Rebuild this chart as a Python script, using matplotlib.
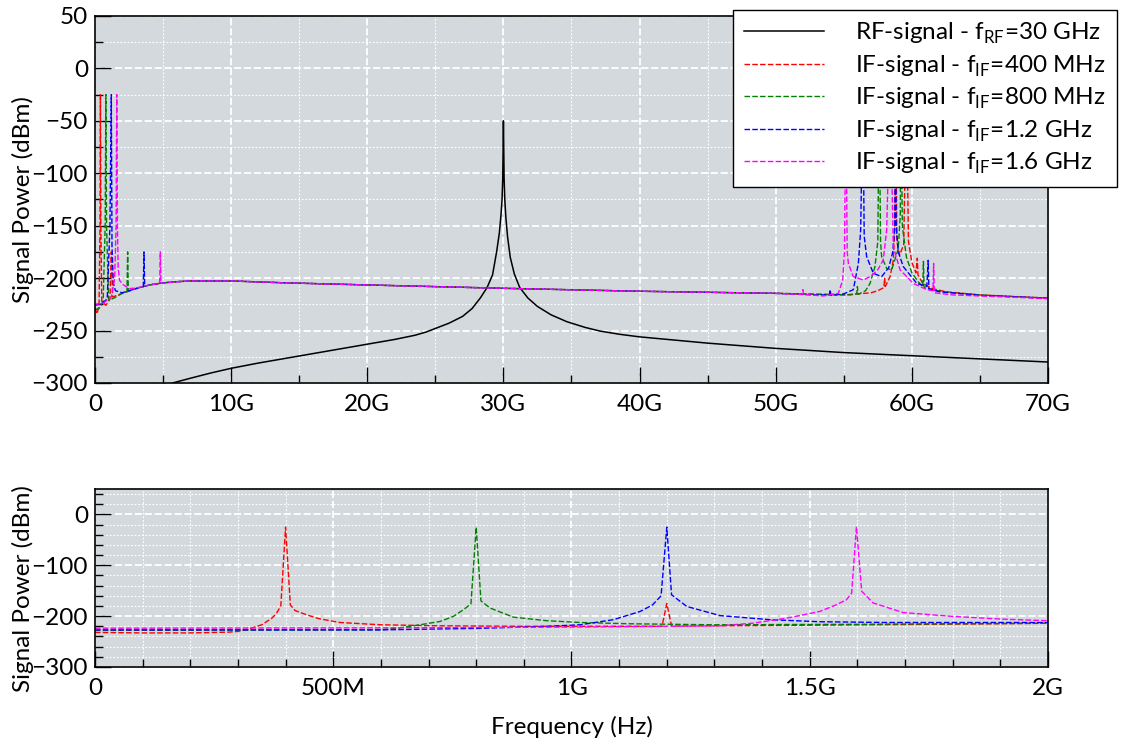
import numpy as np
import matplotlib
matplotlib.use('Agg')
import matplotlib.pyplot as plt
from matplotlib.ticker import MultipleLocator, EngFormatter

plt.rcParams['font.family'] = ['Lato', 'DejaVu Sans']
plt.rcParams['mathtext.fontset'] = 'custom'
plt.rcParams['mathtext.rm'] = 'Lato'
plt.rcParams['font.size'] = 17.5

# ---------------- data (frequency in GHz, power in dBm) ----------------
# top panel: full span 0..70 GHz
rf_f = [5.7, 7, 8.5, 10, 12, 14, 16, 18, 20, 22, 23.5, 24.3, 25, 26, 27, 27.7, 28.3, 28.8, 29.2,
        29.5, 29.7, 29.82, 29.9, 29.95, 30.0, 30.05, 30.1, 30.18, 30.3, 30.5, 30.8, 31.2, 31.8,
        32.5, 33.5, 34.65, 36, 37.1, 38.5, 40, 45, 50, 55, 60, 65, 70]
rf_p = [-300, -295.5, -290.5, -286, -281, -276.5, -272, -267.5, -263, -258.5, -254.5, -251.5,
        -248, -243, -236.5, -229, -219, -209, -197, -175, -157, -140, -125, -105, -50, -105,
        -125, -142, -160, -180, -196, -209, -219, -227, -235, -241.5, -247, -250.5, -253.5,
        -256, -262, -267, -271, -274, -277, -280]

if400_f = [0, 0.15, 0.3, 0.37, 0.4, 0.43, 0.5, 0.8, 1.1, 1.2, 1.3, 1.6, 2, 3, 4, 5, 6, 7, 10, 14,
           20, 30, 40, 50, 55, 57, 57.5, 57.95, 58.0, 58.05, 58.4, 58.64, 58.75, 58.8, 58.9,
           59.1, 59.4, 59.6, 59.75, 60.0, 60.3, 60.4, 60.45, 60.8, 61.5, 62.5, 65, 70]
if400_p = [-228, -234, -226, -150, -25, -150, -222, -226, -220, -175, -218, -216.5, -214.5, -210,
           -206.5, -204.5, -203.4, -202.7, -202.7, -204.5, -206.5, -209.7, -212.5, -214.5, -216,
           -214, -212, -209, -200, -208, -198.6, -182.7, -150, -25, -165, -178, -168, -25, -165,
           -185, -195, -181, -197, -205, -210, -213, -216, -219]

if800_f = [0, 0.3, 0.6, 0.75, 0.8, 0.85, 1.0, 1.4, 2.0, 2.35, 2.4, 2.45, 3, 4, 5, 6, 7, 10, 14, 20,
           30, 40, 50, 55.5, 55.95, 56.0, 56.05, 56.6, 56.93, 57.29, 57.5, 57.6, 57.7, 57.78, 58.15,
           58.52, 59.0, 59.15, 59.2, 59.3, 59.6, 60.0, 60.5, 60.8, 60.85, 60.9, 61.5, 62.5, 65, 70]
if800_p = [-230, -229, -222, -150, -25, -150, -221, -219, -214.5, -213, -175, -212.5, -210, -206.5,
           -204.5, -203.4, -202.7, -202.7, -204.5, -206.5, -209.7, -212.5, -214.5, -216, -215, -208,
           -215.5, -212, -205, -189, -165, -25, -165, -179.5, -190.8, -192, -172, -140, -25, -150,
           -180, -195, -204, -208, -184, -209, -211, -213.5, -216, -219.5]

if1200_f = [0, 0.5, 0.9, 1.1, 1.2, 1.25, 1.35, 1.5, 2, 3, 3.55, 3.6, 3.65, 4, 5, 6, 7, 10, 14, 20,
            30, 40, 50, 53, 53.95, 54.0, 54.05, 55, 55.7, 56.07, 56.24, 56.4, 56.5, 56.68, 57.17,
            57.78, 58.3, 58.6, 58.75, 58.8, 58.85, 59.0, 59.37, 60.36, 61.1, 61.2, 61.25, 62, 63,
            65, 70]
if1200_p = [-226, -224, -220, -150, -25, -170, -205, -212, -214, -210, -208, -175, -208, -206.5,
            -204.5, -203.4, -202.7, -202.7, -204.5, -206.5, -209.7, -212.5, -214.5, -216, -216,
            -211, -216.5, -215, -211, -186, -154, -25, -160, -179.5, -195.4, -198.6, -190, -175,
            -150, -25, -150, -175, -189, -205, -208, -183, -210, -213, -214, -216.5, -219]

if1600_f = [0, 0.6, 1.2, 1.45, 1.55, 1.6, 1.65, 1.7, 1.8, 2.05, 2.5, 3, 4, 4.75, 4.8, 4.85, 6, 7,
            10, 14, 20, 30, 40, 50, 51.95, 52.0, 52.05, 53.5, 54.6, 54.92, 55.05, 55.15, 55.25,
            55.34, 55.7, 56.44, 57.0, 57.5, 57.9, 58.15, 58.4, 58.64, 59.13, 60.1, 61.1, 61.55,
            61.6, 61.65, 63, 65, 70]
if1600_p = [-225, -224, -218, -200, -150, -25, -150, -189, -202, -206, -210, -209.5, -206.5, -205,
            -175, -205, -203.4, -202.7, -202.7, -204.5, -206.5, -209.7, -212.5, -214.5, -215.5,
            -211, -215.5, -217, -214.5, -202, -175, -25, -175, -186, -198.6, -201.8, -198, -192,
            -182.7, -154, -25, -170, -192, -205, -211, -212, -186, -214, -216, -217, -219.5]

# bottom panel: zoom 0..2 GHz
b400_f = [0, 0.1, 0.2, 0.28, 0.30, 0.32, 0.35, 0.37, 0.38, 0.39, 0.40, 0.41, 0.42, 0.444, 0.47,
          0.514, 0.6, 0.72, 0.9, 1.19, 1.20, 1.21, 1.4, 1.7, 2.0]
b400_p = [-232, -233, -233, -231.5, -230, -226, -217, -205, -196, -180, -25, -178, -189, -197.4,
          -205, -212.5, -217, -219, -220, -220, -175, -219.5, -218.5, -216.5, -214]

b800_f = [0, 0.3, 0.6, 0.64, 0.682, 0.724, 0.752, 0.773, 0.789, 0.80, 0.81, 0.829, 0.878, 0.948,
          1.018, 1.123, 1.297, 1.6, 2.0]
b800_p = [-228, -227.5, -227, -223, -217, -210.5, -200.6, -187.5, -176, -25, -170, -184, -202,
          -209, -212.5, -215, -217, -216, -214]

b1200_f = [0, 0.6, 0.808, 0.948, 1.018, 1.088, 1.144, 1.17, 1.188, 1.20, 1.21, 1.242, 1.312,
           1.417, 1.521, 1.661, 2.0]
b1200_p = [-227, -227, -224, -220, -217, -207, -190.8, -178, -160, -25, -158, -181, -199, -207,
           -211, -212.5, -212.5]

b1600_f = [0, 0.6, 1.0, 1.2, 1.312, 1.381, 1.452, 1.521, 1.555, 1.577, 1.588, 1.598, 1.609, 1.633,
           1.696, 1.801, 1.906, 2.0]
b1600_p = [-223.7, -223, -221.5, -220, -219, -213.8, -204, -190.8, -178, -167.8, -154.6, -24, -151,
           -174, -193, -200.6, -206, -209]

labels = ['RF-signal - f$_\\mathrm{RF}$=30 GHz',
          'IF-signal - f$_\\mathrm{IF}$=400 MHz',
          'IF-signal - f$_\\mathrm{IF}$=800 MHz',
          'IF-signal - f$_\\mathrm{IF}$=1.2 GHz',
          'IF-signal - f$_\\mathrm{IF}$=1.6 GHz']
colors = ['black', '#ff0000', '#008000', '#0000ff', '#ff00ff']

top_series = [(if400_f, if400_p), (if800_f, if800_p), (if1200_f, if1200_p), (if1600_f, if1600_p)]
bot_series = [(b400_f, b400_p), (b800_f, b800_p), (b1200_f, b1200_p), (b1600_f, b1600_p)]

dash = (0, (4, 1.6))
bg = '#d4d9de'

fig = plt.figure(figsize=(11.32, 7.47), dpi=100)
ax1 = fig.add_axes([0.0839, 0.4873, 0.8419, 0.4913])
ax2 = fig.add_axes([0.0839, 0.1071, 0.8419, 0.2383])


def style_axes(ax):
    ax.set_facecolor(bg)
    ax.set_axisbelow(True)
    ax.grid(which='major', color='white', linestyle=(0, (4, 1.5)), linewidth=1.3)
    ax.grid(which='minor', color='white', linestyle=(0, (1.6, 1.6)), linewidth=0.8)
    ax.tick_params(which='both', direction='in', top=False, right=False, width=1.0)
    ax.tick_params(which='major', length=11.5)
    ax.tick_params(which='minor', length=5.8)
    ax.tick_params(axis='x', pad=8)
    ax.tick_params(axis='y', pad=5)
    for s in ax.spines.values():
        s.set_linewidth(1.2)
    ax.xaxis.set_major_formatter(EngFormatter(sep=''))


# top panel
ax1.plot(np.array(rf_f) * 1e9, rf_p, color=colors[0], lw=1.1, label=labels[0])
for (f, p), c, lab in zip(top_series, colors[1:], labels[1:]):
    ax1.plot(np.array(f) * 1e9, p, color=c, lw=1.0, linestyle=dash, label=lab)
ax1.set_xlim(0, 70e9)
ax1.set_ylim(-300, 50)
ax1.xaxis.set_major_locator(MultipleLocator(10e9))
ax1.xaxis.set_minor_locator(MultipleLocator(5e9))
ax1.yaxis.set_major_locator(MultipleLocator(50))
ax1.yaxis.set_minor_locator(MultipleLocator(25))
style_axes(ax1)
ax1.set_ylabel('Signal Power (dBm)')
ax1.yaxis.set_label_coords(-0.064, 0.5)

leg = ax1.legend(loc='upper right', bbox_to_anchor=(1.0724, 1.0163), borderaxespad=0,
                 frameon=True, fancybox=False, framealpha=1, edgecolor='black',
                 handlelength=3.3, handletextpad=1.3, labelspacing=0.3, borderpad=0.45)
leg.get_frame().set_linewidth(1.0)

# bottom panel
for (f, p), c in zip(bot_series, colors[1:]):
    ax2.plot(np.array(f) * 1e9, p, color=c, lw=1.0, linestyle=dash)
ax2.set_xlim(0, 2e9)
ax2.set_ylim(-300, 50)
ax2.xaxis.set_major_locator(MultipleLocator(5e8))
ax2.xaxis.set_minor_locator(MultipleLocator(1e8))
ax2.yaxis.set_major_locator(MultipleLocator(100))
ax2.yaxis.set_minor_locator(MultipleLocator(20))
style_axes(ax2)
ax2.set_ylabel('Signal Power (dBm)')
ax2.yaxis.set_label_coords(-0.064, 0.44)
ax2.set_xlabel('Frequency (Hz)', labelpad=12)

fig.savefig('out.png', dpi=100)
